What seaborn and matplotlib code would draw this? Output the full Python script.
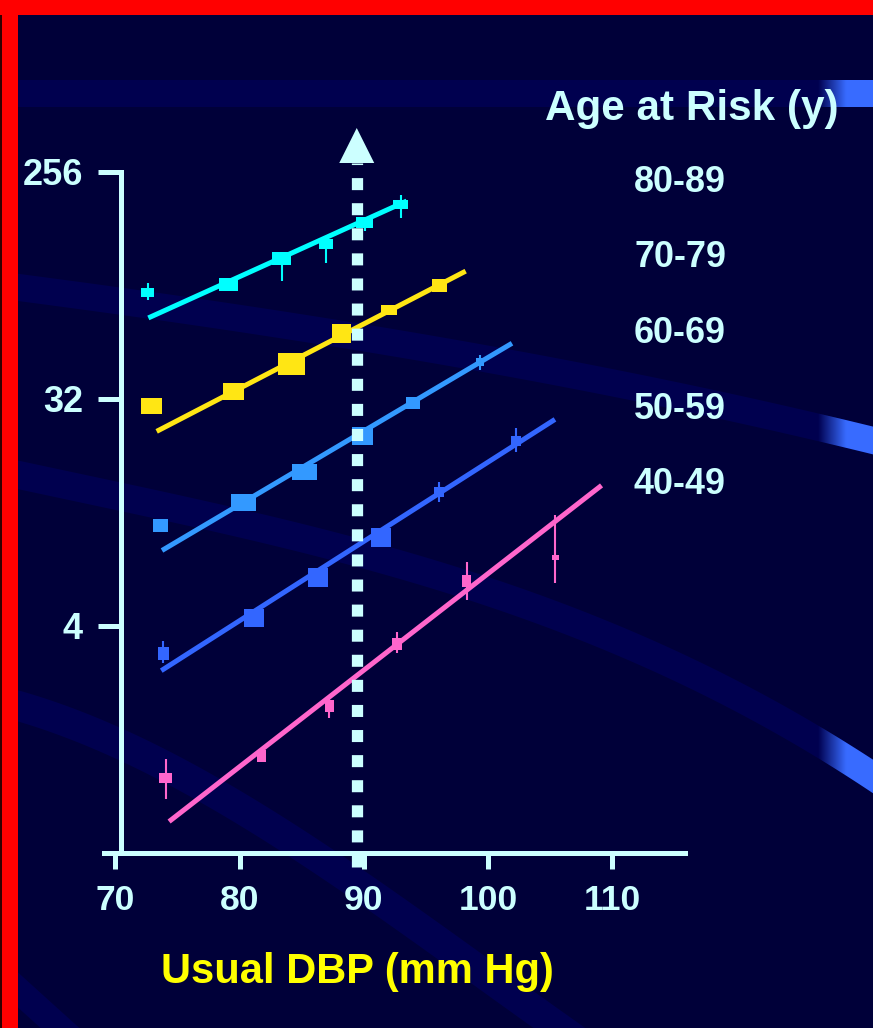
import numpy as np
import pandas as pd
import matplotlib
matplotlib.use("Agg")
import matplotlib.pyplot as plt
import seaborn as sns
from matplotlib.path import Path
from matplotlib.markers import MarkerStyle
from matplotlib.patches import Polygon, Rectangle
from matplotlib.ticker import NullLocator

# ---------------- data ----------------
age_groups = ["80-89", "70-79", "60-69", "50-59", "40-49"]
series_colors = ["#00ffff", "#ffe614", "#3399ff", "#3366ff", "#ff66cc"]

x_ticks = [70, 80, 90, 100, 110]
x_tick_labels = ["70", "80", "90", "100", "110"]
y_ticks = [4, 32, 256]
y_tick_labels = ["4", "32", "256"]

# usual DBP (mm Hg) and relative risk of each category, per age group
dbp_80 = [72.6, 79.1, 83.4, 87.0, 90.1, 93.0]
risk_80 = [84.4, 91.2, 115.7, 131.6, 160.4, 189.9]
lo_80 = [79.1, 91.2, 94.2, 111.2, 148.6, 168.0]
hi_80 = [92.7, 91.2, 115.7, 131.6, 160.4, 207.0]

dbp_70 = [72.9, 79.5, 84.15, 88.2, 92.0, 96.1]
risk_70 = [30.0, 34.2, 44.0, 58.3, 72.0, 90.3]
lo_70 = [30.0, 34.2, 44.0, 58.3, 72.0, 90.3]
hi_70 = [30.0, 34.2, 44.0, 58.3, 72.0, 90.3]

dbp_60 = [73.6, 80.3, 85.2, 89.9, 94.0, 99.4]
risk_60 = [10.0, 12.43, 16.43, 22.7, 30.7, 44.7]
lo_60 = [10.0, 12.43, 16.43, 22.7, 30.7, 41.6]
hi_60 = [10.0, 12.43, 16.43, 22.7, 30.7, 47.8]

dbp_50 = [73.85, 81.2, 86.3, 91.36, 96.1, 102.3]
risk_50 = [3.11, 4.30, 6.25, 9.01, 13.6, 21.7]
lo_50 = [2.84, 4.30, 6.25, 9.01, 12.4, 19.6]
hi_50 = [3.47, 4.30, 6.25, 9.01, 14.9, 24.4]

dbp_40 = [74.05, 81.76, 87.24, 92.71, 98.28, 105.43]
risk_40 = [0.992, 1.218, 1.926, 3.39, 6.06, 7.50]
lo_40 = [0.821, 1.218, 1.725, 3.13, 5.09, 5.90]
hi_40 = [1.185, 1.218, 2.053, 3.80, 7.15, 11.0]

# fitted regression lines (end points)
fit_dbp_80, fit_risk_80 = [72.66, 93.46], [67.1, 195.7]
fit_dbp_70, fit_risk_70 = [73.33, 98.21], [23.75, 103.0]
fit_dbp_60, fit_risk_60 = [73.76, 101.94], [7.98, 53.2]
fit_dbp_50, fit_risk_50 = [73.7, 105.4], [2.655, 26.5]
fit_dbp_40, fit_risk_40 = [74.33, 109.15], [0.667, 14.48]

reference_dbp = 89.44

# marker box sizes (pixels, width x height)
box_w_80, box_h_80 = [13, 19, 19, 14, 17, 15], [9, 13, 13, 10, 11, 9]
box_w_70, box_h_70 = [21, 21, 27, 19, 16, 15], [16, 17, 22, 19, 10, 13]
box_w_60, box_h_60 = [15, 25, 25, 21, 14, 8], [13, 17, 16, 18, 12, 8]
box_w_50, box_h_50 = [11, 20, 20, 20, 10, 10], [13, 18, 19, 19, 10, 10]
box_w_40, box_h_40 = [13, 9, 9, 10, 9, 7], [10, 12, 12, 12, 12, 5]

groups = [
    (dbp_80, risk_80, lo_80, hi_80, fit_dbp_80, fit_risk_80, box_w_80, box_h_80),
    (dbp_70, risk_70, lo_70, hi_70, fit_dbp_70, fit_risk_70, box_w_70, box_h_70),
    (dbp_60, risk_60, lo_60, hi_60, fit_dbp_60, fit_risk_60, box_w_60, box_h_60),
    (dbp_50, risk_50, lo_50, hi_50, fit_dbp_50, fit_risk_50, box_w_50, box_h_50),
    (dbp_40, risk_40, lo_40, hi_40, fit_dbp_40, fit_risk_40, box_w_40, box_h_40),
]

# ---------------- style ----------------
sns.set_theme(style="ticks")
plt.rcParams["font.family"] = ["Liberation Sans", "DejaVu Sans"]
plt.rcParams["font.weight"] = "bold"

W, H = 873, 1028
BG = "#000039"
BAND = "#00004f"
GLOW = np.array([0.22, 0.42, 1.0])
FG = "#ccffff"

fig = plt.figure(figsize=(W / 100, H / 100), dpi=100, facecolor=BG)

# ---------------- decorative background ----------------
bg = fig.add_axes([0, 0, 1, 1], zorder=0)
bg.set_facecolor(BG)


def add_band(poly, glow_at=None):
    patch = Polygon(poly, closed=True, facecolor=BAND, edgecolor="none")
    bg.add_patch(patch)
    if glow_at is not None:
        xs = np.linspace(glow_at, W, 200)
        alpha = np.clip((xs - glow_at) / 28.0, 0, 1)
        img = np.zeros((1, xs.size, 4))
        img[0, :, :3] = GLOW
        img[0, :, 3] = alpha
        im = bg.imshow(img, extent=(glow_at, W, H, 0), aspect="auto",
                       interpolation="bilinear", zorder=1)
        im.set_clip_path(patch)


def curved_band(px, py, width, deg, x0, x1, glow_at=None):
    c = np.polyfit(px, py, deg)
    xx = np.linspace(x0, x1, 400)
    yy = np.polyval(c, xx)
    dy = np.gradient(yy, xx)
    nx, ny = -dy, np.ones_like(dy)
    nn = np.hypot(nx, ny)
    nx, ny = nx / nn, ny / nn
    up = np.column_stack([xx - nx * width / 2, yy - ny * width / 2])
    dn = np.column_stack([xx + nx * width / 2, yy + ny * width / 2])
    add_band(np.vstack([up, dn[::-1]]), glow_at)


add_band(np.array([[18, 80], [W, 80], [W, 107], [18, 107]]), glow_at=818)
curved_band([18, 120, 300, 500, 760, 873], [288, 300, 328, 362, 413, 441],
            27, 3, 0, 885, glow_at=818)
curved_band([18, 100, 400, 650, 760, 873], [475, 492, 565, 653, 710, 776],
            28, 3, 0, 885, glow_at=818)
curved_band([18, 100, 200, 295, 420, 560], [705, 737, 785, 840, 930, 1028],
            30, 3, 0, 640)
curved_band([18, 60], [990, 1028], 26, 1, 0, 90)

# slide frame
bg.add_patch(Rectangle((0, 0), 18, H, facecolor="#ff0000", edgecolor="none", zorder=5))
bg.add_patch(Rectangle((0, 0), W, 15, facecolor="#ff0000", edgecolor="none", zorder=5))
bg.add_patch(Rectangle((0, 15), 1.5, H, facecolor="#300000", edgecolor="none", zorder=6))
bg.set_xlim(0, W)
bg.set_ylim(H, 0)
bg.axis("off")

# ---------------- main chart ----------------
ax_left, ax_right, ax_top, ax_bottom = 104, 685, 171.7, 853
ax = fig.add_axes([ax_left / W, (H - ax_bottom) / H,
                   (ax_right - ax_left) / W, (ax_bottom - ax_top) / H], zorder=1)
ax.set_facecolor("none")
ax.set_yscale("log", base=2)
ax.set_xlim(69.09, 115.87)
ax.set_ylim(0.5, 256)


def rect_marker(w, h):
    m = max(w, h)
    hw, hh = w / m, h / m
    verts = [(-hw, -hh), (hw, -hh), (hw, hh), (-hw, hh), (-hw, -hh)]
    codes = [Path.MOVETO, Path.LINETO, Path.LINETO, Path.LINETO, Path.CLOSEPOLY]
    return MarkerStyle(Path(verts, codes))


for (dbp, risk, lo, hi, fx, fy, bw, bh), color in zip(groups, series_colors):
    sns.lineplot(x=fx, y=fy, color=color, linewidth=3.6, estimator=None,
                 ax=ax, legend=False, solid_capstyle="butt", zorder=3)
    lo_a, hi_a, x_a = np.array(lo), np.array(hi), np.array(dbp)
    has_bar = hi_a > lo_a
    ax.vlines(x_a[has_bar], lo_a[has_bar], hi_a[has_bar], colors=color,
              linewidth=1.5, zorder=4)
    df = pd.DataFrame({"dbp": dbp, "risk": risk, "pt": range(len(dbp))})
    markers = {i: rect_marker(w, h) for i, (w, h) in enumerate(zip(bw, bh))}
    sizes = [(max(w, h) * 0.72) ** 2 for w, h in zip(bw, bh)]
    sns.scatterplot(data=df, x="dbp", y="risk", style="pt", markers=markers,
                    s=sizes, color=color, linewidth=0, legend=False, ax=ax,
                    zorder=5)

# reference DBP line with arrow head
trans = ax.get_xaxis_transform()
axis_px = ax_bottom - ax_top
y_low = (ax_bottom - 867) / axis_px
y_base = (ax_bottom - 163) / axis_px
y_apex = (ax_bottom - 128) / axis_px
ax.plot([reference_dbp, reference_dbp], [y_low, y_base], transform=trans,
        color=FG, linewidth=8.1, dashes=(1.07, 1.16), dash_capstyle="butt",
        clip_on=False, zorder=6)
half = 17.5 / 12.42
ax.add_patch(Polygon([[reference_dbp - half, y_base], [reference_dbp + half, y_base],
                      [reference_dbp, y_apex]], closed=True, transform=trans,
                     facecolor=FG, edgecolor="none", clip_on=False, zorder=6))

# axes styling
for side in ["top", "right"]:
    ax.spines[side].set_visible(False)
for side in ["left", "bottom"]:
    ax.spines[side].set_color(FG)
    ax.spines[side].set_linewidth(3.6)
    ax.spines[side].set_capstyle("projecting")
ax.spines["left"].set_position(("data", 70.46))
ax.set_xticks(x_ticks)
ax.set_xticklabels(x_tick_labels)
ax.set_yticks(y_ticks)
ax.set_yticklabels(y_tick_labels)
ax.yaxis.set_minor_locator(NullLocator())
ax.xaxis.set_minor_locator(NullLocator())
ax.tick_params(axis="x", length=11.5, width=3.6, pad=11, labelsize=25.5,
               colors=FG, direction="out")
ax.tick_params(axis="y", length=16.5, width=3.6, pad=10.8, labelsize=26,
               colors=FG, direction="out")
ax.set_xlabel("")
ax.set_ylabel("")
ax.grid(False)
ax.set_xlim(69.09, 115.87)
ax.set_ylim(0.5, 256)

# titles and group labels
fig.text(545 / W, 1 - 120 / H, "Age at Risk (y)", color=FG, fontsize=30.4,
         fontweight="bold", ha="left", va="baseline")
label_baselines = [192, 267, 343, 419, 494]
for name, yb in zip(age_groups, label_baselines):
    fig.text(634 / W, 1 - yb / H, name, color=FG, fontsize=25.8,
             fontweight="bold", ha="left", va="baseline")
fig.text(357.5 / W, 1 - 983 / H, "Usual DBP (mm Hg)", color="#ffff00",
         fontsize=30, fontweight="bold", ha="center", va="baseline")

fig.savefig("out.png", dpi=100, facecolor=BG)
